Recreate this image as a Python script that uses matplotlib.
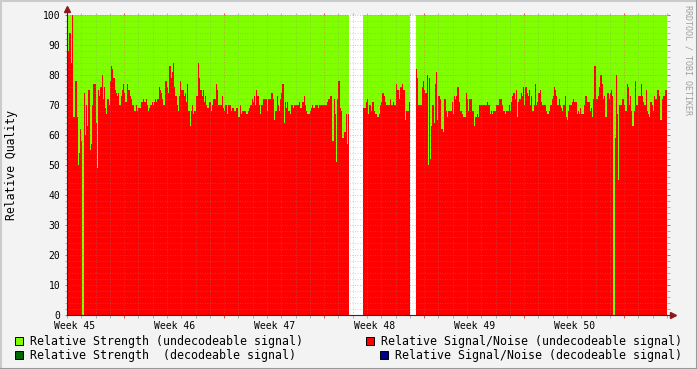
import numpy as np
import matplotlib.pyplot as plt
from matplotlib.patches import Rectangle
from matplotlib.lines import Line2D

nan = np.nan

# relative signal/noise (undecodeable signal), one sample every 2 hours
sn_part1 = [77, 88, 94, 84, 100, 66, 66, 78, 66, 50, 54, 62, 58, 0, 74, 60, 70, 63, 75, 55,
            57, 70, 77, 77, 64, 49, 75, 73, 76, 80, 72, 76, 69, 67, 72, 70, 78, 83, 82, 79,
            75, 74, 73, 74, 70, 73, 75, 77, 74, 71, 77, 75, 75, 73, 72, 70, 68, 68, 70, 68,
            69, 69, 71, 71, 72, 71, 72, 70, 68, 69, 70, 71, 70, 71, 72, 71, 72, 76, 75, 74,
            72, 70, 78]
sn_part2 = [78, 76, 74, 83, 79, 81, 84, 76, 73, 70, 68, 73, 78, 75, 75, 73, 74, 71, 77, 68,
            63, 68, 70, 67, 68, 73, 73, 84, 79, 75, 73, 75, 71, 73, 70, 69, 71, 71, 68, 70,
            72, 72, 77, 75, 70, 70, 70, 73, 69, 68, 70, 67, 70, 70, 70, 68, 69, 68, 68, 69,
            69, 66, 70, 67, 68, 68, 68, 67, 67, 68, 69, 70, 72, 71, 73, 70, 75, 73, 70, 67,
            70, 70, 72, 72]
sn_part3 = [72, 68, 72, 72, 74, 74, 72, 65, 68, 73, 70, 68, 72, 74, 77, 64, 71, 69, 71, 68,
            67, 70, 70, 69, 70, 70, 70, 70, 71, 69, 71, 71, 73, 70, 68, 67, 67, 68, 69, 70,
            69, 70, 70, 70, 69, 70, 70, 70, 70, 70, 70, 71, 72, 72, 73, 73, 58, 72, 67, 51,
            72, 78, 69, 68, 59, 59, 61, 67, 57, 67,
            nan, nan, nan, nan, nan, nan, nan, nan, nan, nan, nan, nan,
            69, 69]
sn_part4 = [71, 72, 67, 70, 68, 71, 71, 68, 67, 66, 66, 67, 70, 71, 74, 73, 71, 70, 70, 70,
            72, 70, 70, 71, 70, 77, 75, 75, 72, 76, 77, 75, 75, 65, 68, 68, 71,
            nan, nan, nan, nan, nan,
            82, 79, 70, 70, 70, 76, 78, 75, 74, 80, 50, 79, 52, 63, 70, 64, 77, 81,
            65, 73, 72, 62, 62, 61, 72, 68, 66, 68, 68, 68, 71, 67, 73, 72, 73, 76, 71, 68,
            68, 67, 66, 66]
sn_part5 = [74, 72, 68, 72, 72, 68, 68, 63, 66, 67, 66, 70, 70, 70, 70, 70, 70, 70, 71, 70,
            67, 68, 67, 68, 68, 70, 70, 70, 72, 72, 70, 68, 68, 67, 68, 68, 70, 68, 71, 73,
            74, 72, 75, 66, 71, 72, 74, 73, 76, 70, 76, 74, 73, 75, 70, 73, 68, 70, 77, 70,
            71, 74, 75, 71, 70, 70, 70, 68, 67, 67, 68, 70, 72, 73, 76, 75, 73, 70, 72, 70,
            69, 68, 70, 73]
sn_part6 = [66, 65, 68, 70, 70, 71, 72, 71, 71, 67, 68, 67, 69, 67, 67, 70, 73, 73, 71, 71,
            68, 69, 66, 72, 83, 72, 72, 73, 76, 80, 77, 72, 73, 66, 66, 74, 72, 74, 75, 73,
            0, 59, 80, 67, 45, 70, 70, 72, 72, 70, 68, 77, 76, 70, 73, 68, 63, 68, 78, 70,
            70, 73, 73, 77, 73, 71, 70, 75, 68, 67, 66, 71, 70, 68, 73, 72, 72, 75, 73, 65,
            65, 72, 73, 75, 75]

sn_undecodeable = np.array(sn_part1 + sn_part2 + sn_part3 + sn_part4 + sn_part5 + sn_part6, dtype=float)
# strength sits at 100 whenever there is data
strength_undecodeable = np.where(np.isnan(sn_undecodeable), nan, 100.0)

# time in days, day 0 = monday of week 45
start_day = 3.0
step_days = 2 / 24
edges = start_day + np.arange(len(sn_undecodeable) + 1) * step_days

week_labels = ["Week 45", "Week 46", "Week 47", "Week 48", "Week 49", "Week 50"]
week_label_pos = [3.5, 10.5, 17.5, 24.5, 31.5, 38.5]
week_starts = [7, 14, 21, 28, 35, 42]

legend_names = ["Relative Strength (undecodeable signal)",
                "Relative Strength  (decodeable signal)",
                "Relative Signal/Noise (undecodeable signal)",
                "Relative Signal/Noise (decodeable signal)"]
legend_colors = ["#80FF00", "#006400", "#FF0000", "#000088"]

plt.rcParams['font.family'] = 'DejaVu Sans Mono'

W, H = 697, 369
fig = plt.figure(figsize=(W / 100, H / 100), dpi=100, facecolor='#F3F3F3')
ax = fig.add_axes([67 / W, 54 / H, 600 / W, 300 / H])
ax.set_facecolor('white')

ax.stairs(strength_undecodeable, edges, fill=True, color='#80FF00', lw=0, zorder=1)
ax.stairs(sn_undecodeable, edges, fill=True, color='#FF0000', lw=0, zorder=1.5)

ax.set_xlim(start_day, edges[-1])
ax.set_ylim(0, 100)

# grid: days / 2 units minor, weeks / 10 units major
day_ticks = [d for d in range(3, 46) if d % 7 != 0]
ax.set_xticks(week_starts)
ax.set_xticks(day_ticks, minor=True)
ax.set_yticks(range(0, 101, 10))
ax.set_yticks([v for v in range(0, 101, 2) if v % 10 != 0], minor=True)
ax.set_axisbelow(False)
ax.grid(which='minor', color='#8F8F8F', alpha=0.5, linestyle=(0, (1, 2)), lw=0.6)
ax.grid(which='major', color='#E85050', alpha=0.6, linestyle=(0, (1, 2)), lw=0.6)
ax.tick_params(which='major', direction='out', length=1.8, width=0.7, color='#E85050',
               top=True, right=True, labelbottom=False, labelsize=7, pad=3)
ax.tick_params(which='minor', direction='out', length=1.8, width=0.7, color='#B0B0B0',
               top=True, right=True)
for s in ax.spines.values():
    s.set_visible(False)

sec = ax.secondary_xaxis('bottom')
sec.set_xticks(week_label_pos, labels=week_labels)
sec.tick_params(length=0, labelsize=7, pad=4)
sec.spines['bottom'].set_visible(False)

# axis lines with arrows
axis_col = '#2A2A3A'
ax.plot([0, 0], [0, 1.015], color=axis_col, lw=0.8, transform=ax.transAxes, clip_on=False, zorder=5)
ax.plot([0, 1.01], [0, 0], color=axis_col, lw=0.8, transform=ax.transAxes, clip_on=False, zorder=5)
ax.plot(0, 1.02, marker='^', ms=4, color='#8B1A1A', transform=ax.transAxes, clip_on=False, zorder=6)
ax.plot(1.01, 0, marker='>', ms=4, color='#8B1A1A', transform=ax.transAxes, clip_on=False, zorder=6)

fig.text(12 / W, 1 - 165 / H, "Relative Quality", rotation=90, ha='center', va='center', size=8.3)
fig.text(688 / W, 1 - 60 / H, "RRDTOOL / TOBI OETIKER", rotation=-90, ha='center', va='center',
         size=6, color='#A0A0A0')

# legend rows (box left x, text left x, row centre y) in pixels
legend_pos = [(15, 30, 341), (15, 30, 355), (366, 381, 341), (380, 395, 355)]
for (bx, tx, cy), name, col in zip(legend_pos, legend_names, legend_colors):
    fig.add_artist(Rectangle((bx / W, 1 - (cy + 4) / H), 8 / W, 8 / H, transform=fig.transFigure,
                             facecolor=col, edgecolor='black', lw=0.7))
    fig.text(tx / W, 1 - cy / H, name, ha='left', va='center', size=8.4)

# shaded frame round the picture
fig.add_artist(Line2D([0, 1], [1, 1], transform=fig.transFigure, color='#CBCBCB', lw=2.2))
fig.add_artist(Line2D([0, 0], [0, 1], transform=fig.transFigure, color='#CBCBCB', lw=2.2))
fig.add_artist(Line2D([0, 1], [0, 0], transform=fig.transFigure, color='#999999', lw=2.2))
fig.add_artist(Line2D([1, 1], [0, 1], transform=fig.transFigure, color='#999999', lw=2.2))

fig.savefig('out.png', dpi=100, facecolor=fig.get_facecolor())
